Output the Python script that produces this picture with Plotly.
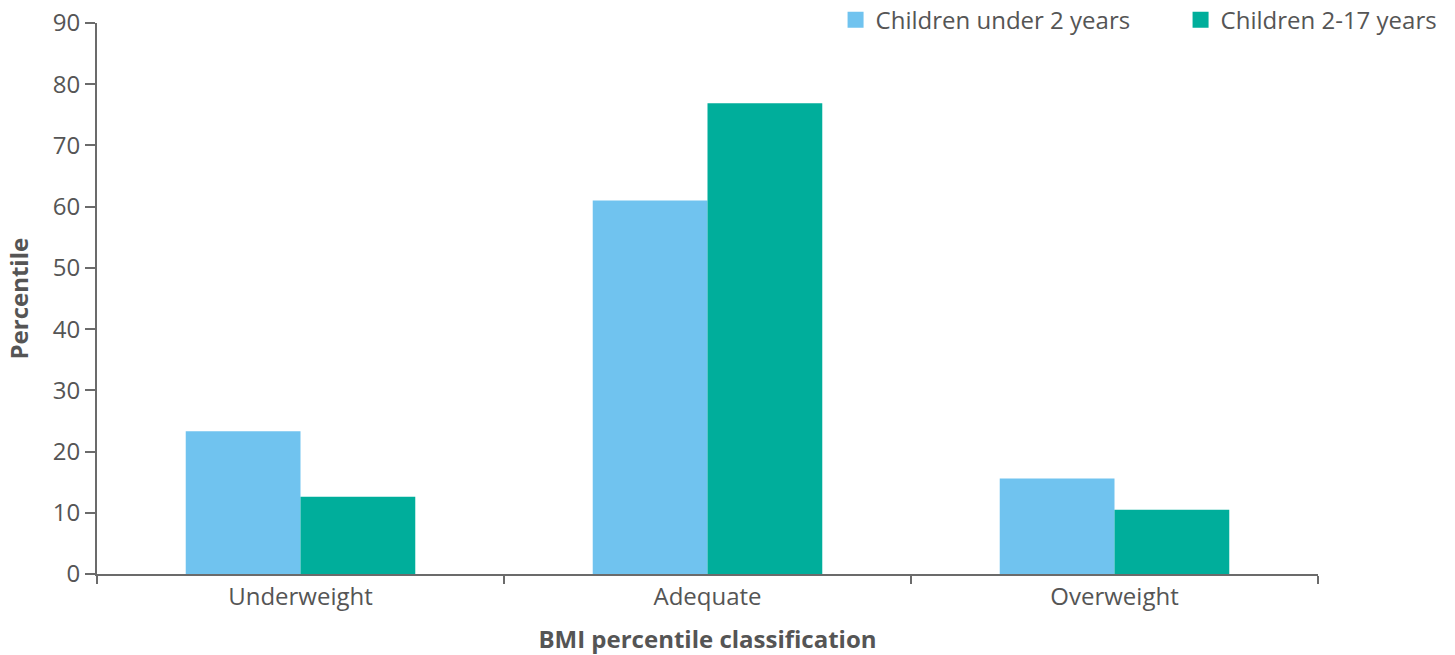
import plotly.graph_objects as go

categories = ["Underweight", "Adequate", "Overweight"]
under2 = [23.3, 61.0, 15.6]
age2_17 = [12.6, 76.9, 10.5]
series_names = ["Children under 2 years", "Children 2-17 years"]
colors = ["#70C3EF", "#00AE9B"]
y_ticks = [0, 10, 20, 30, 40, 50, 60, 70, 80, 90]

fig = go.Figure()
fig.add_bar(x=categories, y=under2, name=series_names[0], marker_color=colors[0],
            marker_line_width=0, showlegend=False)
fig.add_bar(x=categories, y=age2_17, name=series_names[1], marker_color=colors[1],
            marker_line_width=0, showlegend=False)
# legend entries with 16px square swatches
for name, col in zip(series_names, colors):
    fig.add_scatter(x=[None], y=[None], mode="markers", name=name,
                    marker=dict(symbol="square", size=17, color=col), showlegend=True)

font_family = "Open Sans"
txt = "#555555"
fig.update_layout(
    width=1447, height=647,
    margin=dict(l=89, r=137, t=15, b=81, autoexpand=False),
    plot_bgcolor="white", paper_bgcolor="white",
    barmode="group", bargap=0.436, bargroupgap=0,
    font=dict(family=font_family, size=24, color=txt),
    legend=dict(orientation="h", x=1.170, xanchor="right", y=1.005, yanchor="middle",
                font=dict(size=24, color=txt), traceorder="normal",
                entrywidth=300, entrywidthmode="pixels",
                bgcolor="rgba(0,0,0,0)"),
    showlegend=True,
)
fig.add_annotation(text="<b>Percentile</b>", xref="paper", yref="paper", x=0, y=0.5,
                   xanchor="center", yanchor="middle", xshift=-79, textangle=-90,
                   showarrow=False, font=dict(size=24, color=txt))
fig.update_xaxes(
    automargin=False,
    showline=True, linecolor="#6b6b6b", linewidth=2,
    ticks="outside", tickson="boundaries", ticklen=8, tickwidth=2, tickcolor="#6b6b6b",
    showgrid=False,
    title=dict(text="<b>BMI percentile classification</b>", font=dict(size=24, color=txt), standoff=26),
    tickfont=dict(size=24, color=txt),
)
fig.update_yaxes(
    automargin=False, ticklabeloverflow="allow",
    range=[0, 90], tickvals=y_ticks, showgrid=False, zeroline=False,
    showline=True, linecolor="#6b6b6b", linewidth=2,
    ticks="outside", ticklen=10, tickwidth=2, tickcolor="#6b6b6b",
    tickfont=dict(size=24, color=txt),
)
fig.write_html("out.html")
